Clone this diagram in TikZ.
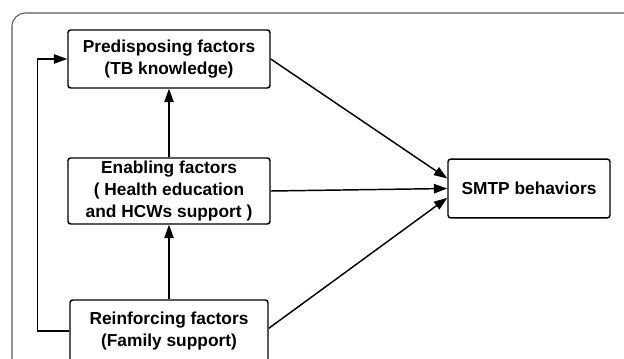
\documentclass[tikz,border=0pt]{standalone}
\usepackage{fontspec}
\setmainfont{Liberation Sans}
\usetikzlibrary{arrows.meta}

\begin{document}
\begin{tikzpicture}[x=0.75pt,y=-0.75pt,
        factor/.style={draw,line width=1.1pt,rounded corners=2pt,align=center,inner sep=0pt,
            font=\fontsize{13}{16.5}\selectfont\bfseries},
        link/.style={line width=1.1pt,-{Triangle[length=10pt,width=7pt]}}]
                \useasboundingbox (0,0) rectangle (624,358);
                \clip (0,0) rectangle (624,358);
                \draw[black!65,line width=0.8pt,rounded corners=10pt] (12,13) rectangle (680,420);

                \node[factor,minimum width=151.5pt,minimum height=43.5pt] (pre) at (169,59) {Predisposing factors\\(TB knowledge)};
                \node[factor,minimum width=151.5pt,minimum height=49.5pt] (ena) at (169,191) {Enabling factors\\( Health education\\and HCWs support )};
                \node[factor,minimum width=148.5pt,minimum height=46.5pt] (rei) at (169,331) {Reinforcing factors\\(Family support)};
                \node[factor,minimum width=121.5pt,minimum height=44pt] (smtp) at (529,188.5) {SMTP behaviors};

                \draw[link] (ena) to (pre);
                \draw[link] (rei) to (ena);
                \draw[link] (rei.west) -- ++(-32,0) |- (pre.west);

                \draw[link] (pre.east) to ([yshift=7.5pt]smtp.west);
                \draw[link] (ena.east) to (smtp.west);
                \draw[link] ([yshift=2pt]rei.east) to ([yshift=-7pt]smtp.west);
            \end{tikzpicture}
\end{document}
